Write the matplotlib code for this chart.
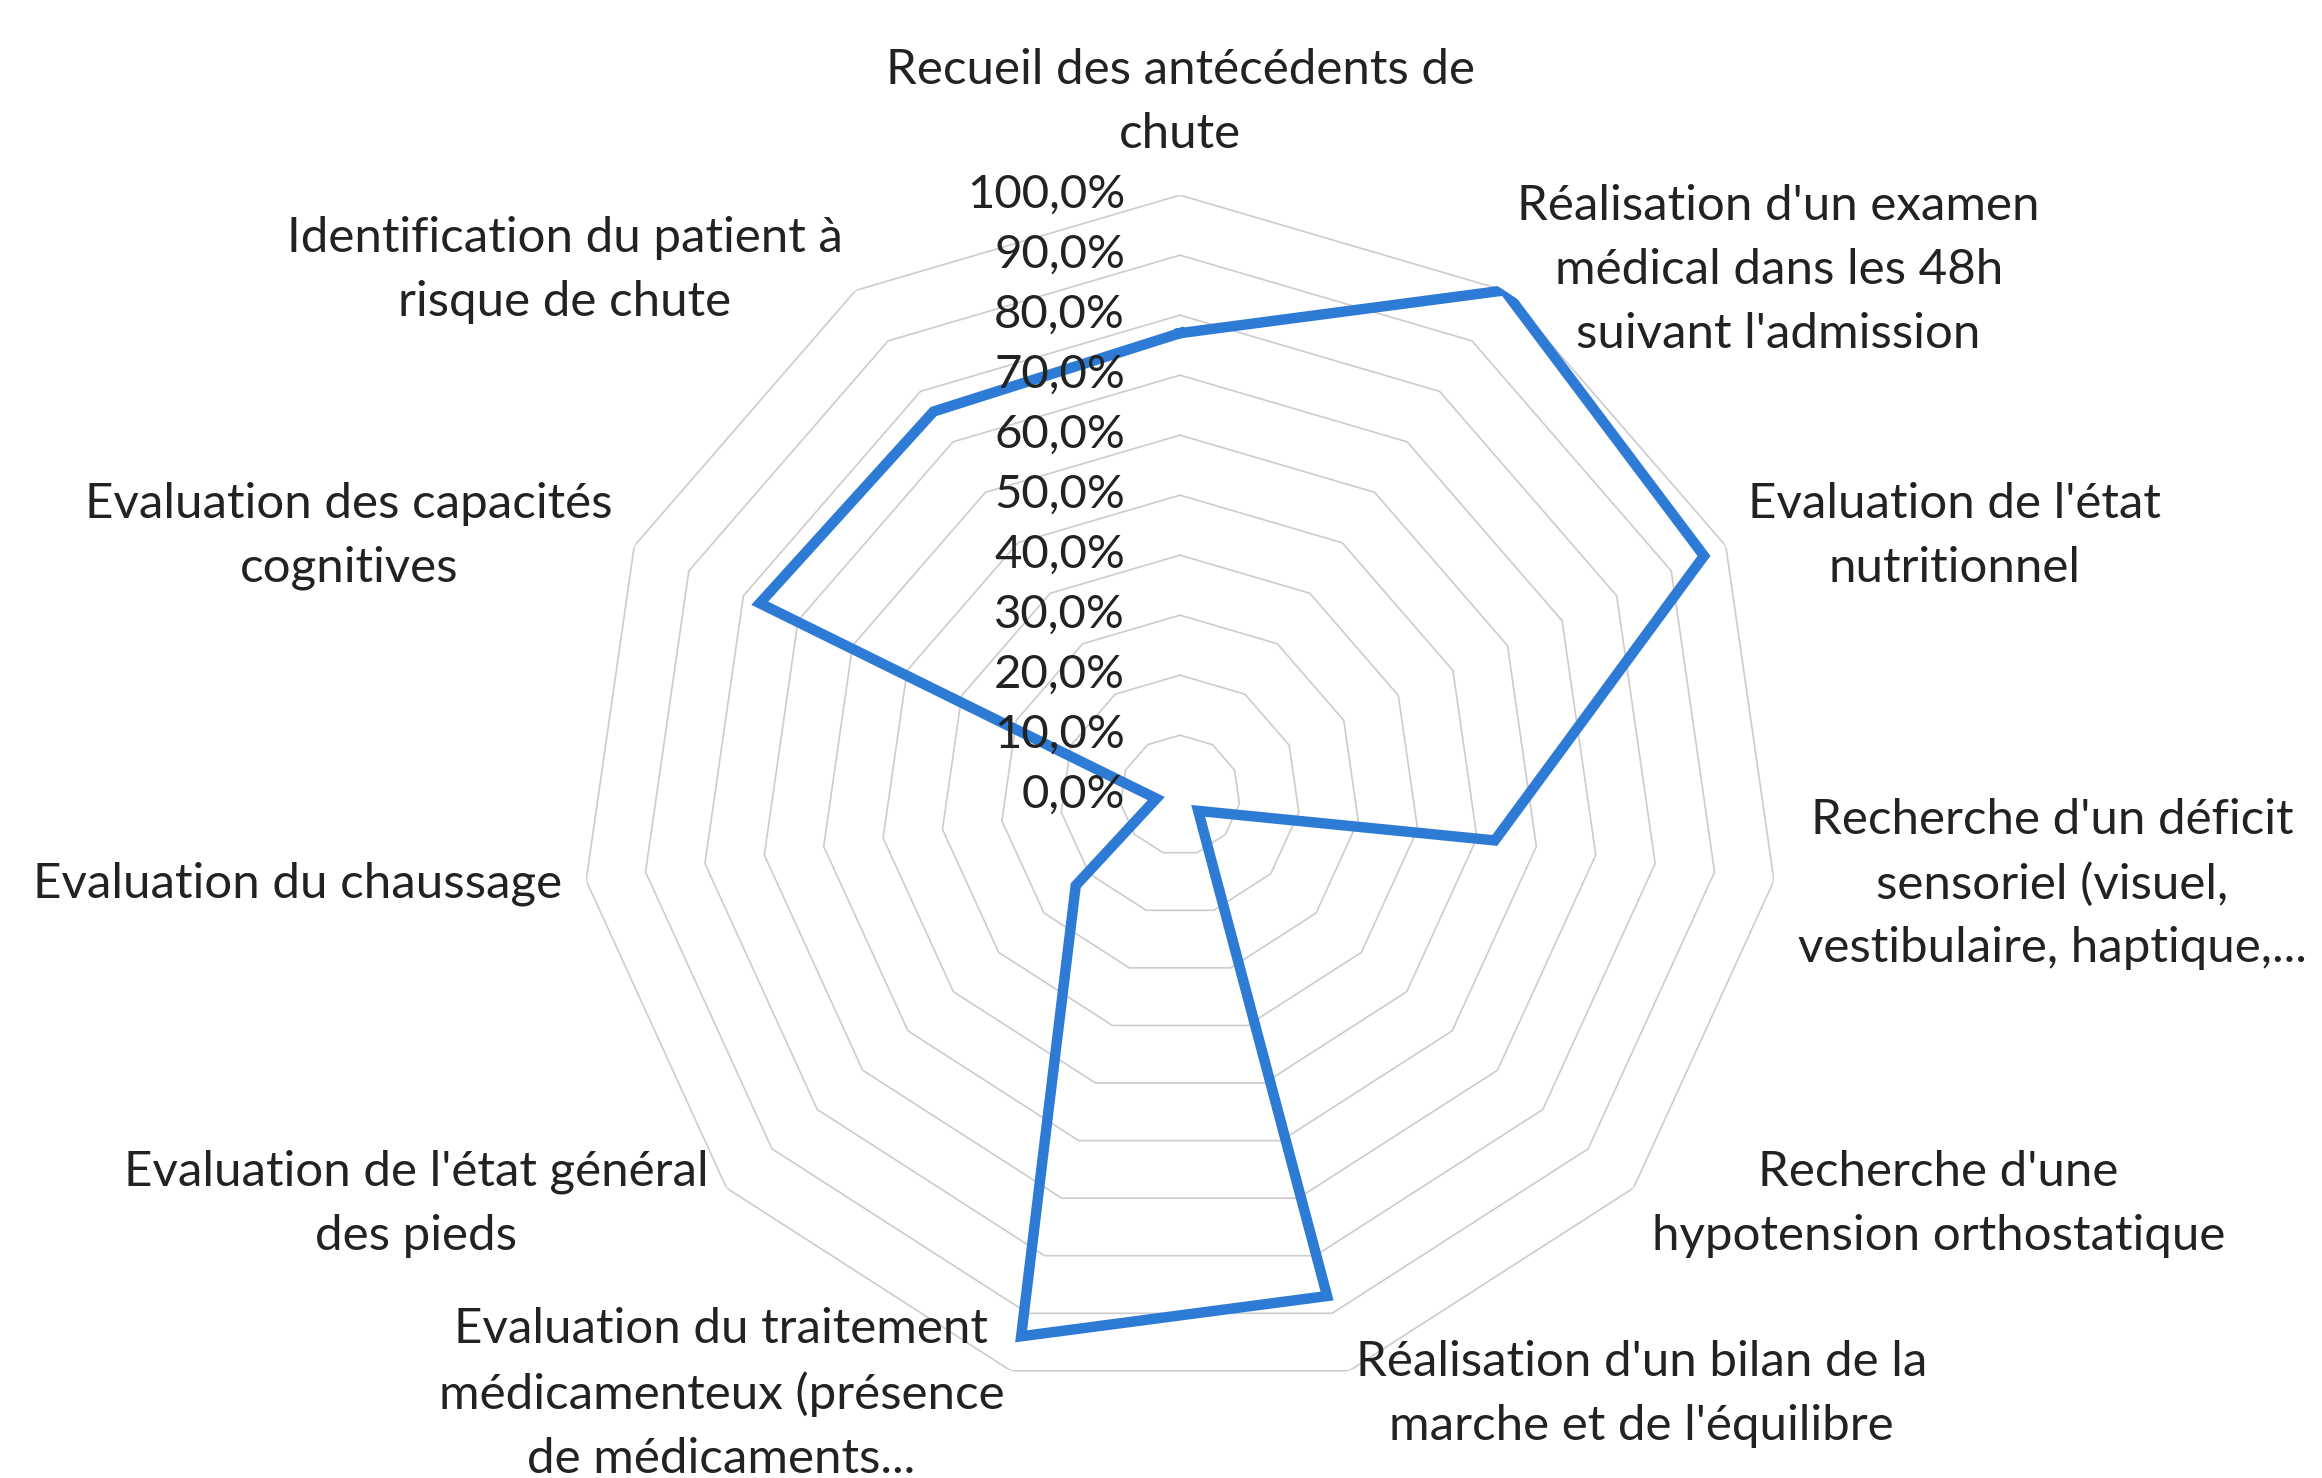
import numpy as np
import matplotlib
matplotlib.use("Agg")
import matplotlib.pyplot as plt
from matplotlib.transforms import offset_copy

plt.rcParams["font.family"] = ["Lato", "DejaVu Sans"]

categories = [
    "Recueil des antécédents de\nchute",
    "Réalisation d'un examen\nmédical dans les 48h\nsuivant l'admission",
    "Evaluation de l'état\nnutritionnel",
    "Recherche d'un déficit\nsensoriel (visuel,\nvestibulaire, haptique,...",
    "Recherche d'une\nhypotension orthostatique",
    "Réalisation d'un bilan de la\nmarche et de l'équilibre",
    "Evaluation du traitement\nmédicamenteux (présence\nde médicaments...",
    "Evaluation de l'état général\ndes pieds",
    "Evaluation du chaussage",
    "Evaluation des capacités\ncognitives",
    "Identification du patient à\nrisque de chute",
]
values = [0.77, 1.00, 0.96, 0.53, 0.04, 0.87, 0.94, 0.23, 0.04, 0.77, 0.76]
levels = [0.0, 0.1, 0.2, 0.3, 0.4, 0.5, 0.6, 0.7, 0.8, 0.9, 1.0]
level_labels = ["0,0%", "10,0%", "20,0%", "30,0%", "40,0%", "50,0%",
                "60,0%", "70,0%", "80,0%", "90,0%", "100,0%"]

n = len(categories)
angles = np.linspace(0, 2 * np.pi, n, endpoint=False)
closed = np.append(angles, angles[0])

fig = plt.figure(figsize=(23.22, 14.78), dpi=100)
ax = fig.add_axes([0.2498, 0.056, 0.5168, 0.812], projection="polar")
ax.set_theta_offset(np.pi / 2)
ax.set_theta_direction(-1)
ax.set_ylim(0, 1)
ax.grid(False)
ax.spines["polar"].set_visible(False)
ax.set_xticks([])
ax.set_yticks([])
ax.patch.set_alpha(0)

# polygon rings
for lv in levels[1:]:
    ax.plot(closed, [lv] * (n + 1), color="#cccccc", lw=1.2, zorder=1)

# data series
vals = values + values[:1]
ax.plot(closed, vals, color="#2E7BD6", lw=7.5, solid_joinstyle="miter", zorder=3)

# radial labels sit just left of the vertical axis
off = offset_copy(ax.transData, fig=fig, x=-55, y=0, units="dots")
for lv, lab in zip(levels, level_labels):
    ax.text(0, lv, lab, transform=off, ha="right", va="center",
            fontsize=34, color="#222222", zorder=4)

# category labels
for ang, lab in zip(angles, categories):
    s = np.sin(ang)
    r = 1.04
    if abs(s) < 0.01:
        ha, va = "center", "bottom"
        r = 1.065
    elif s > 0:
        ha, va = "left", "center"
    else:
        ha, va = "right", "center"
    ax.text(ang, r, lab, ha=ha, va=va, multialignment="center",
            fontsize=35.5, color="#222222", linespacing=1.55)

fig.savefig("out.png", dpi=100, facecolor="white")
